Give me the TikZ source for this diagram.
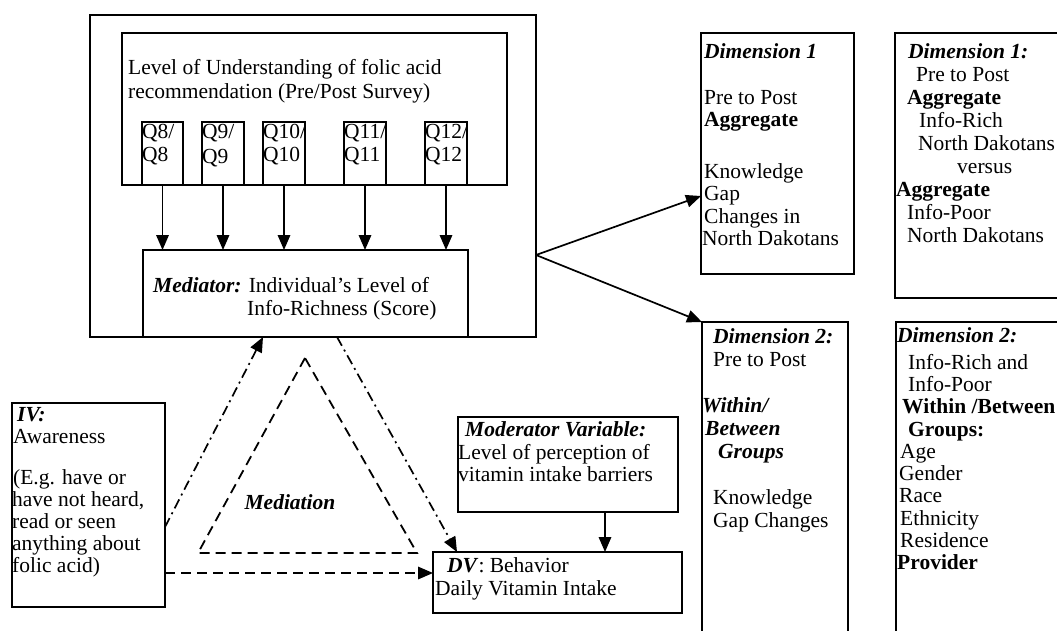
\documentclass[tikz,border=0pt]{standalone}
\usepackage{fontspec}
\setmainfont{Liberation Serif}
\usetikzlibrary{arrows.meta}
\begin{document}
\begin{tikzpicture}[x=1pt,y=-1pt,
  box/.style={draw, line width=1.9pt, inner sep=0pt, outer sep=0pt, anchor=north west},
  txt/.style={inner sep=0pt, anchor=north west, align=left, font=\fontsize{21.5}{22.5}\selectfont},
  arr/.style={line width=1.7pt, -{Triangle[length=15pt,width=12.5pt]}},
  dsh/.style={line width=1.8pt, dash pattern=on 10pt off 6pt},
  dshdot/.style={line width=1.6pt, dash pattern=on 10pt off 4.5pt on 2pt off 4.5pt},
  bi/.style={font=\fontsize{21.5}{22.5}\selectfont\bfseries\itshape}
]
\useasboundingbox (0,0) rectangle (1057,630);

% ---- mediator block ----
\node[box, line width=2.1pt, minimum width=446pt, minimum height=322pt] (outer) at (90,15) {};
\node[box, minimum width=385pt, minimum height=152pt] (lvl) at (122,33) {};
\node[box, minimum width=41pt, minimum height=63pt] (q8)  at (142,122) {};
\node[box, minimum width=42pt, minimum height=63pt] (q9)  at (202,122) {};
\node[box, minimum width=42pt, minimum height=63pt] (q10) at (263,122) {};
\node[box, minimum width=42pt, minimum height=63pt] (q11) at (344,122) {};
\node[box, minimum width=42pt, minimum height=63pt] (q12) at (425,122) {};
\node[box, minimum width=325pt, minimum height=87pt] (med) at (143,250) {};

\node[txt] (tlvl) at (128,59) {\strut Level of Understanding of folic acid\\[1.5pt]recommendation (Pre/Post Survey)};
\node[txt] (tq8)  at (142,123) {\strut Q8/\\Q8};
\node[txt] (tq9)  at (202,123) {\strut Q9/\\[2pt]Q9};
\node[txt] (tq10) at (263,123) {\strut Q10/\\Q10};
\node[txt] (tq11) at (344,123) {\strut Q11/\\Q11};
\node[txt] (tq12) at (425,123) {\strut Q12/\\Q12};
\node[txt] (tmed) at (153,277) {\strut\textbf{\textit{Mediator:}} Individual's Level of\\\hspace*{94pt}Info-Richness (Score)};

\foreach \q in {q8,q9,q10,q11,q12}
  \draw[arr] (\q.south) -- (\q.south |- med.north);

% ---- dimension boxes ----
\node[box, minimum width=153pt, minimum height=241pt] (dimA) at (701,33) {};
\node[box, minimum width=200pt, minimum height=265pt] (dimB) at (895,33) {};
\node[box, minimum width=146pt, minimum height=330pt] (dimC) at (702,322) {};
\node[box, minimum width=200pt, minimum height=330pt] (dimD) at (896,322) {};

\node[txt] (tdimA) at (704,43) {\strut\textbf{\textit{Dimension 1}}\\[23pt]Pre to Post\\\textbf{Aggregate}\\[29pt]Knowledge\\Gap\\Changes in\\\hspace*{-2pt}North Dakotans};
\node[txt, font=\fontsize{21.5}{23}\selectfont] (tdimB) at (896,42) {\hspace*{12pt}\strut\textbf{\textit{Dimension 1:}}\\\hspace*{20pt}Pre to Post\\\hspace*{11pt}\textbf{Aggregate}\\\hspace*{23pt}Info-Rich\\\hspace*{22pt}North Dakotans\\\hspace*{61pt}versus\\\textbf{Aggregate}\\\hspace*{11pt}Info-Poor\\\hspace*{11pt}North Dakotans};
\node[txt, font=\fontsize{21.5}{23}\selectfont] (tdimC) at (702,327) {\hspace*{11pt}\strut\textbf{\textit{Dimension 2:}}\\\hspace*{11pt}Pre to Post\\[23pt]\textbf{\textit{Within/}}\\\hspace*{3pt}\textbf{\textit{Between}}\\\hspace*{16pt}\textbf{\textit{Groups}}\\[23pt]\hspace*{11pt}Knowledge\\\hspace*{11pt}Gap Changes};
\node[txt, font=\fontsize{21.5}{22.3}\selectfont] (tdimD) at (896,327) {\hspace*{1pt}\strut\textbf{\textit{Dimension 2:}}\\[4pt]\hspace*{12pt}Info-Rich and\\\hspace*{12pt}Info-Poor\\\hspace*{6pt}\textbf{Within /Between}\\\hspace*{12pt}\textbf{Groups:}\\\hspace*{4pt}Age\\\hspace*{3pt}Gender\\\hspace*{3pt}Race\\\hspace*{4pt}Ethnicity\\\hspace*{4pt}Residence\\\hspace*{1pt}\textbf{Provider}};

% fork from the mediator block to the two analysis dimensions
\coordinate (fork) at ([yshift=-79pt]outer.east);
\draw[arr] (fork) -- ([yshift=-42.5pt]dimA.west);
\draw[arr] (fork) -- (dimC.north west);

% ---- IV, moderator, DV ----
\node[box, minimum width=153pt, minimum height=204pt] (iv) at (12,403) {};
\node[box, minimum width=220pt, minimum height=95pt] (mod) at (458,417) {};
\node[box, minimum width=249pt, minimum height=61pt] (dv) at (433,552) {};

\node[txt, font=\fontsize{21.5}{22}\selectfont] (tiv) at (12,406) {\hspace*{5pt}\strut\textbf{\textit{IV:}}\\\hspace*{1pt}Awareness\\[19pt]\hspace*{1pt}(E.g. have or\\have not heard,\\read or seen\\anything about\\folic acid)};
\node[txt] (tmod) at (458,421) {\hspace*{7pt}\strut\textbf{\textit{Moderator Variable:}}\\Level of perception of\\vitamin intake barriers};
\node[txt] (tdv) at (434,557) {\hspace*{13pt}\strut\textbf{\textit{DV}}: Behavior\\\hspace*{1pt}Daily Vitamin Intake};

\draw[arr] ([xshift=37pt]mod.south) coordinate (modout) -- (modout |- dv.north);

% ---- mediation paths ----
\draw[dshdot, arr] ([yshift=-22pt]iv.east) -- ([xshift=-42.5pt]med.south);
\draw[dshdot, arr] ([xshift=31.5pt]med.south) -- ([xshift=-100.5pt]dv.north);
\draw[dsh, arr] ([yshift=-68pt]iv.east) coordinate (ivlow) -- (ivlow -| dv.west);

\draw[dsh] (305,358) -- (198,553) -- (417,553) -- cycle;
\node[bi] (medlabel) at (290,502) {Mediation};

\end{tikzpicture}
\end{document}
